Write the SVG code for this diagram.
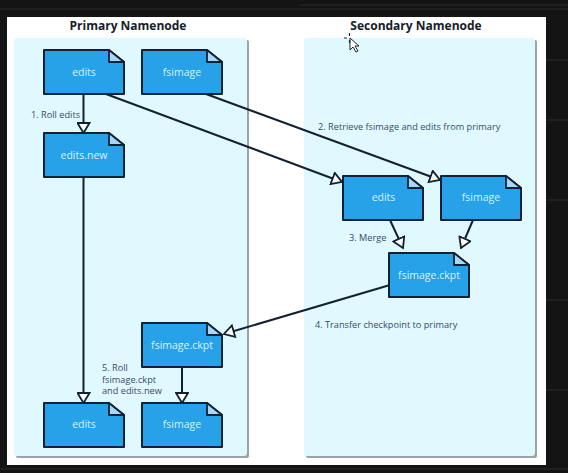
<svg xmlns="http://www.w3.org/2000/svg" width="568" height="473" viewBox="0 0 568 473">
<defs>
<style>
.doc{fill:#27a1e8;stroke:#0f2238;stroke-width:2;stroke-linejoin:round}
.fold{fill:#a8d8f5;stroke:#0f2238;stroke-width:1.8;stroke-linejoin:round}
.dn{font-family:"Open Sans","Liberation Sans",sans-serif;font-size:10.5px;fill:#d8f2fd;text-anchor:middle}
.lb{font-family:"Open Sans","Liberation Sans",sans-serif;font-size:9.2px;fill:#3a4a66}
.hd{font-family:"Open Sans","Liberation Sans",sans-serif;font-size:12px;font-weight:700;fill:#15202b;text-anchor:middle}
.c{fill:none;stroke:#14202e;stroke-width:2}
.panel{fill:#dff9ff}
.shadow{fill:#9aa4a8}
</style>
<marker id="tri" markerUnits="userSpaceOnUse" markerWidth="14" markerHeight="14" refX="11" refY="7" orient="auto">
<path d="M1 1 L11 7 L1 13 Z" fill="#fff" stroke="#14202e" stroke-width="1.800"/>
</marker>
<g id="docshape"><path class="doc" d="M0 0H65L80 12V44H0Z"/><path class="fold" d="M65 0L80 12H65Z"/></g>
</defs>
<rect width="568" height="473" fill="#141414"/>
<path d="M0 9H568M300 5H568M546 60H568M546 120H568M546 200H568M546 300H568M546 390H568M0 469H568" stroke="#1f1f1f" stroke-width="2" fill="none"/>
<rect x="7" y="17" width="539" height="448" fill="#fff"/>
<rect class="shadow" x="16" y="40" width="233" height="418" rx="2"/>
<rect class="shadow" x="306" y="40" width="231" height="418" rx="2"/>
<rect class="panel" x="14" y="38" width="233" height="418" rx="3"/>
<rect class="panel" x="304" y="38" width="231" height="418" rx="3"/>
<text class="hd" x="128" y="30">Primary Namenode</text>
<text class="hd" x="416" y="30">Secondary Namenode</text>
<g id="connectors">
<path class="c" d="M83.500 94V133" marker-end="url(#tri)"/>
<path class="c" d="M83.500 177V403" marker-end="url(#tri)"/>
<path class="c" d="M106 94L342 182" marker-end="url(#tri)"/>
<path class="c" d="M206 94L440 180" marker-end="url(#tri)"/>
<path class="c" d="M390 285L224 334" marker-end="url(#tri)"/>
<path class="c" d="M182 367V403" marker-end="url(#tri)"/>
<path class="c" d="M390 220L403 248" marker-end="url(#tri)"/>
<path class="c" d="M473 220L461 248" marker-end="url(#tri)"/>
</g>
<g id="n-edits"><use href="#docshape" x="44" y="50"/><text class="dn" x="84" y="76">edits</text></g>
<g id="n-fsimage"><use href="#docshape" x="142" y="50"/><text class="dn" x="182" y="76">fsimage</text></g>
<g id="n-editsnew"><use href="#docshape" x="44" y="133"/><text class="dn" x="84" y="159">edits.new</text></g>
<g id="n-s-edits"><use href="#docshape" x="343" y="176"/><text class="dn" x="383.500" y="201">edits</text></g>
<g id="n-s-fsimage"><use href="#docshape" x="441" y="176"/><text class="dn" x="481" y="201">fsimage</text></g>
<g id="n-s-ckpt"><use href="#docshape" x="389" y="253"/><text class="dn" x="429" y="279">fsimage.ckpt</text></g>
<g id="n-p-ckpt"><use href="#docshape" x="142" y="323"/><text class="dn" x="182" y="349">fsimage.ckpt</text></g>
<g id="n-edits2"><use href="#docshape" x="44" y="403"/><text class="dn" x="84" y="428">edits</text></g>
<g id="n-fsimage2"><use href="#docshape" x="142" y="403"/><text class="dn" x="182" y="428">fsimage</text></g>
<text class="lb" x="31" y="118">1. Roll edits</text>
<text class="lb" x="318" y="130">2. Retrieve fsimage and edits from primary</text>
<text class="lb" x="349" y="241">3. Merge</text>
<text class="lb" x="315" y="328">4. Transfer checkpoint to primary</text>
<text class="lb" x="102" y="371">5. Roll</text>
<text class="lb" x="102" y="382.500">fsimage.ckpt</text>
<text class="lb" x="102" y="394">and edits.new</text>
<path d="M350 38l0 12 3-3 3 5 2-1-3-5 4 0Z" fill="#fff" stroke="#222" stroke-width="1"/>
<path d="M349.500 33v3M349.500 40v3M344 38h3" stroke="#222" stroke-width="1.200" fill="none"/>
</svg>
